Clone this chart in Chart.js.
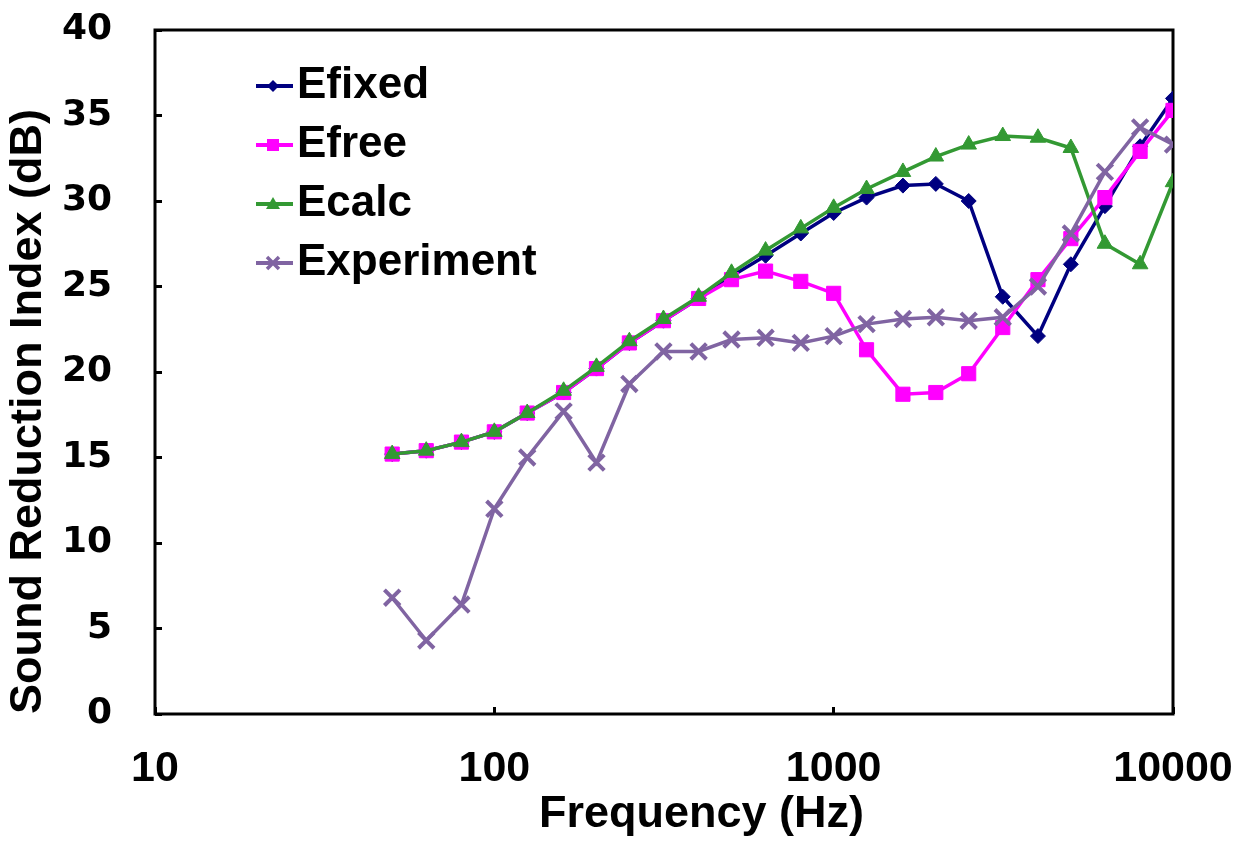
<!DOCTYPE html>
<html>
<head>
<meta charset="utf-8">
<script src="https://cdn.jsdelivr.net/npm/chart.js@4/dist/chart.umd.min.js"></script>
<style>
  body { margin: 0; background: #fff; }
</style>
</head>
<body>
<canvas id="srChart" width="1248" height="845"></canvas>
<script>
// third-octave band centre frequencies (Hz)
const frequencies = [50, 63, 80, 100, 125, 160, 200, 250, 315, 400, 500, 630,
  800, 1000, 1250, 1600, 2000, 2500, 3150, 4000, 5000, 6300, 8000, 10000];

const efixed = [15.2, 15.4, 15.9, 16.5, 17.6, 18.8, 20.2, 21.7, 23.0, 24.3, 25.6, 26.8,
  28.1, 29.3, 30.2, 30.9, 31.0, 30.0, 24.4, 22.1, 26.3, 29.7, 33.2, 36.0];
const efree = [15.2, 15.4, 15.9, 16.5, 17.6, 18.8, 20.2, 21.7, 23.0, 24.3, 25.4, 25.9,
  25.3, 24.6, 21.3, 18.7, 18.8, 19.9, 22.6, 25.4, 27.8, 30.2, 32.9, 35.3];
const ecalc = [15.2, 15.4, 15.9, 16.5, 17.6, 18.9, 20.3, 21.8, 23.1, 24.4, 25.8, 27.1,
  28.4, 29.6, 30.7, 31.7, 32.6, 33.3, 33.8, 33.7, 33.1, 27.5, 26.3, 31.1];
const experiment = [6.8, 4.3, 6.4, 12.0, 15.0, 17.7, 14.7, 19.3, 21.2, 21.2, 21.9, 22.0,
  21.7, 22.1, 22.8, 23.1, 23.2, 23.0, 23.2, 25.0, 28.1, 31.7, 34.3, 33.3];

const xTicks = [10, 100, 1000, 10000];
const yTicks = [0, 5, 10, 15, 20, 25, 30, 35, 40];

const colors = ['#000080', '#FF00FF', '#339933', '#8064A2'];

function toPoints(values) {
  return values.map((v, i) => ({ x: frequencies[i], y: v }));
}

// little line + marker pictures for the legend
function legendIcon(color, shape) {
  const c = document.createElement('canvas');
  c.width = 40;
  c.height = 20;
  const g = c.getContext('2d');
  g.strokeStyle = color;
  g.fillStyle = color;
  g.lineWidth = 4;
  g.beginPath();
  g.moveTo(0, 10);
  g.lineTo(40, 10);
  g.stroke();
  g.beginPath();
  if (shape === 'diamond') {
    g.moveTo(20, 4); g.lineTo(26, 10); g.lineTo(20, 16); g.lineTo(14, 10);
    g.closePath(); g.fill();
  } else if (shape === 'square') {
    g.fillRect(14, 4, 12, 12);
  } else if (shape === 'triangle') {
    g.moveTo(20, 3); g.lineTo(27, 15); g.lineTo(13, 15);
    g.closePath(); g.fill();
  } else {
    g.lineWidth = 3.5;
    g.moveTo(14, 4); g.lineTo(26, 16);
    g.moveTo(26, 4); g.lineTo(14, 16);
    g.stroke();
  }
  return c;
}

const legendIcons = [
  legendIcon(colors[0], 'diamond'),
  legendIcon(colors[1], 'square'),
  legendIcon(colors[2], 'triangle'),
  legendIcon(colors[3], 'cross')
];

const plotFrame = {
  id: 'plotFrame',
  beforeDatasetsDraw(chart) {
    const { ctx, chartArea } = chart;
    ctx.save();
    ctx.strokeStyle = '#000';
    ctx.lineWidth = 3;
    ctx.strokeRect(chartArea.left, chartArea.top, chartArea.right - chartArea.left, chartArea.bottom - chartArea.top);
    ctx.restore();
  }
};

// put the legend in the top-left of the plot
const legendPlace = {
  id: 'legendPlace',
  afterLayout(chart) {
    chart.legend.left = 256;
    chart.legend.top = 49;
  }
};

// tick padding is only for label placement, not for the layout
function noScalePadding(scale) {
  scale.paddingTop = 0;
  scale.paddingBottom = 0;
  scale.paddingLeft = 0;
  scale.paddingRight = 0;
}

const ctx = document.getElementById('srChart').getContext('2d');

new Chart(ctx, {
  type: 'line',
  data: {
    datasets: [
      {
        label: 'Efixed',
        data: toPoints(efixed),
        borderColor: colors[0],
        backgroundColor: colors[0],
        borderWidth: 3.5,
        pointStyle: 'rectRot',
        pointRadius: 7.5,
        pointBorderWidth: 1,
        order: 4
      },
      {
        label: 'Efree',
        data: toPoints(efree),
        borderColor: colors[1],
        backgroundColor: colors[1],
        borderWidth: 3.5,
        pointStyle: 'rect',
        pointRadius: 10,
        pointBorderWidth: 1,
        order: 3
      },
      {
        label: 'Ecalc',
        data: toPoints(ecalc),
        borderColor: colors[2],
        backgroundColor: colors[2],
        borderWidth: 3.5,
        pointStyle: 'triangle',
        pointRadius: 9,
        pointBorderWidth: 1,
        order: 2
      },
      {
        label: 'Experiment',
        data: toPoints(experiment),
        borderColor: colors[3],
        backgroundColor: colors[3],
        borderWidth: 3.5,
        pointStyle: 'crossRot',
        pointRadius: 11,
        pointBorderWidth: 4,
        order: 1
      }
    ]
  },
  options: {
    responsive: false,
    animation: false,
    layout: {
      padding: { left: 0, right: 75, top: 30, bottom: 0 }
    },
    scales: {
      x: {
        type: 'logarithmic',
        min: 10,
        max: 10000,
        afterBuildTicks: (scale) => {
          scale.ticks = xTicks.map(v => ({ value: v }));
        },
        afterFit: (scale) => {
          scale.height = 131;
          noScalePadding(scale);
        },
        grid: {
          drawOnChartArea: false,
          tickLength: -7,
          tickWidth: 3,
          tickColor: '#000'
        },
        border: { display: false },
        ticks: {
          padding: 36,
          color: '#000',
          font: { family: 'Liberation Sans, Arial, sans-serif', size: 43, weight: 'bold' },
          callback: (v) => String(v)
        },
        title: {
          display: true,
          text: '\u00a0\u00a0\u00a0\u00a0\u00a0\u00a0Frequency (Hz)',
          color: '#000',
          padding: { top: 0, bottom: 3 },
          font: { family: 'Liberation Sans, Arial, sans-serif', size: 45, weight: 'bold' }
        }
      },
      y: {
        min: 0,
        max: 40,
        afterBuildTicks: (scale) => {
          scale.ticks = yTicks.map(v => ({ value: v }));
        },
        afterFit: (scale) => {
          scale.width = 155;
          noScalePadding(scale);
        },
        grid: {
          drawOnChartArea: false,
          tickLength: -7,
          tickWidth: 3,
          tickColor: '#000'
        },
        border: { display: false },
        ticks: {
          padding: 50,
          color: '#000',
          font: { family: 'DejaVu Sans, sans-serif', size: 36, weight: 'bold' }
        },
        title: {
          display: true,
          align: 'start',
          text: 'Sound Reduction Index (dB)',
          color: '#000',
          padding: { top: 2, bottom: 0 },
          font: { family: 'Liberation Sans, Arial, sans-serif', size: 45, weight: 'bold' }
        }
      }
    },
    plugins: {
      tooltip: { enabled: false },
      legend: {
        position: 'chartArea',
        align: 'start',
        labels: {
          color: '#000',
          padding: 15,
          usePointStyle: true,
          pointStyleWidth: 4,
          font: { family: 'Liberation Sans, Arial, sans-serif', size: 44, weight: 'bold' },
          sort: (a, b) => a.datasetIndex - b.datasetIndex,
          generateLabels: (chart) => {
            const items = Chart.defaults.plugins.legend.labels.generateLabels(chart);
            return items.map(item => Object.assign(item, { pointStyle: legendIcons[item.datasetIndex] }));
          }
        }
      }
    }
  },
  plugins: [plotFrame, legendPlace]
});
</script>
</body>
</html>
